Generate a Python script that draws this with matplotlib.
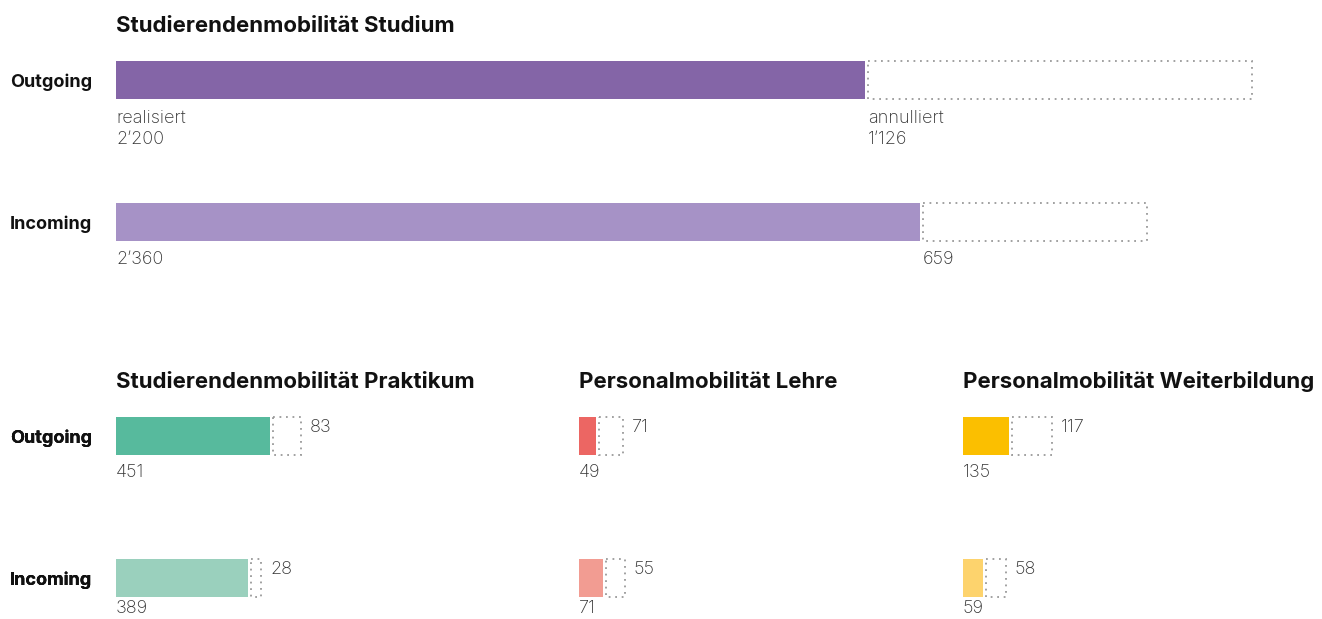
import matplotlib
matplotlib.use("Agg")  # no display in the sandbox
import matplotlib.pyplot as plt
from matplotlib.transforms import blended_transform_factory

# Mobilitaet: realisiert vs. annulliert, je Outgoing / Incoming
ROWS = ["Outgoing", "Incoming"]

STUDIUM_DONE = [2200, 2360]
STUDIUM_CANCELLED = [1126, 659]
PRAKTIKUM_DONE = [451, 389]
PRAKTIKUM_CANCELLED = [83, 28]
LEHRE_DONE = [49, 71]
LEHRE_CANCELLED = [71, 55]
WEITER_DONE = [135, 59]
WEITER_CANCELLED = [117, 58]

TITLES = [
    "Studierendenmobilität Studium",
    "Studierendenmobilität Praktikum",
    "Personalmobilität Lehre",
    "Personalmobilität Weiterbildung",
]

# layout in pixels of a 1322x619 canvas
W, H = 1322, 619
SCALE = 0.3405      # px per person, same for all panels
ROW_GAP = 142       # px between outgoing and incoming bar centres
BAR_PX = 38
GAP_PX = 3          # white gap between done bar and dotted box

FONT = "Inter"
TEXT_DARK = "#111111"
TEXT_NUM = "#333333"
NUM_SIZE = 13

plt.rcParams["font.family"] = [FONT, "DejaVu Sans"]

fig = plt.figure(figsize=(W / 100, H / 100), dpi=100)


def fmt(v):
    return f"{v:,}".replace(",", "\u2019")


def num(ax, x, y, s):
    ax.text(x, y, s, fontsize=NUM_SIZE, fontweight="light", color=TEXT_NUM,
            va="baseline", ha="left")


def panel(left, centre0, width, title, done, cancelled, colors, style):
    top = centre0 - 70
    height = 250
    ax = fig.add_axes([left / W, 1 - (top + height) / H, width / W, height / H])
    ax.set_xlim(0, width / SCALE)
    ax.set_ylim((top + height - centre0) / ROW_GAP, (top - centre0) / ROW_GAP)
    ax.axis("off")

    ys = list(range(len(done)))
    bh = BAR_PX / ROW_GAP
    gap = GAP_PX / SCALE
    ax.barh(ys, done, height=bh, color=colors, linewidth=0)
    ax.barh(ys, cancelled, left=[d + gap for d in done], height=bh,
            facecolor="none", edgecolor="#9a9a9a", linewidth=1.3,
            linestyle=(0, (1, 2.6)))

    def dy(px):
        return px / ROW_GAP

    ax.text(0, dy(-48), title, fontsize=16, fontweight="bold",
            color=TEXT_DARK, va="baseline", ha="left")

    label_tr = blended_transform_factory(fig.transFigure, ax.transData)
    for i, row in enumerate(ROWS):
        ax.text(10 / W, i + dy(7), row, transform=label_tr, fontsize=13,
                fontweight="bold", color=TEXT_DARK, va="baseline", ha="left")

    for i, (d, c) in enumerate(zip(done, cancelled)):
        if style == "big":
            if i == 0:
                num(ax, 0, i + dy(43), "realisiert")
                num(ax, d + gap, i + dy(43), "annulliert")
                yv = i + dy(64)
            else:
                yv = i + dy(42)
            num(ax, 0, yv, fmt(d))
            num(ax, d + gap, yv, fmt(c))
        else:
            # last row sits at the bottom edge, keep it inside the canvas
            num(ax, 0, i + dy(41 if i == 0 else 35), fmt(d))
            num(ax, d + gap + c + 9 / SCALE, i + dy(-4), fmt(c))
    return ax


panel(116, 80, 1200, TITLES[0], STUDIUM_DONE, STUDIUM_CANCELLED,
      ["#8465a7", "#a692c6"], "big")
panel(116, 436, 420, TITLES[1], PRAKTIKUM_DONE, PRAKTIKUM_CANCELLED,
      ["#57ba9d", "#9ad0bd"], "small")
panel(579, 436, 360, TITLES[2], LEHRE_DONE, LEHRE_CANCELLED,
      ["#ec6663", "#f29c92"], "small")
panel(963, 436, 355, TITLES[3], WEITER_DONE, WEITER_CANCELLED,
      ["#fbbf00", "#fdd36d"], "small")

fig.savefig("out.png", dpi=100)
